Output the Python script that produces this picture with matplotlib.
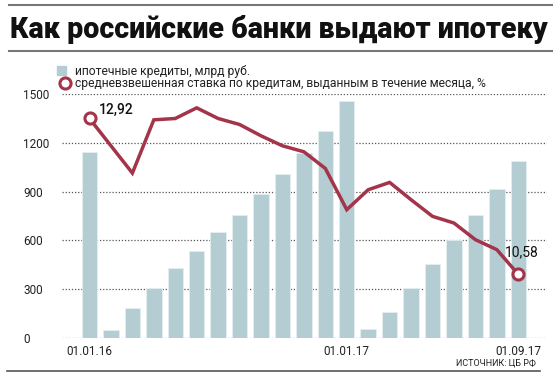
import numpy as np
import matplotlib.pyplot as plt
from matplotlib.lines import Line2D
from matplotlib.patches import Rectangle

# ипотечные кредиты, млрд руб. (01.01.16 ... 01.09.17)
credits = [1145, 47, 187, 306, 430, 532, 649, 758, 886, 1011, 1138, 1274, 1459,
           55, 158, 306, 456, 600, 758, 914, 1089]
# средневзвешенная ставка, % (для второй точки значения нет)
rate = [12.92, None, 12.10, 12.90, 12.92, 13.08, 12.92, 12.83, 12.66, 12.51, 12.42,
        12.17, 11.55, 11.85, 11.96, 11.70, 11.45, 11.35, 11.10, 10.95, 10.58]
xlabels = {0: "01.01.16", 12: "01.01.17", 20: "01.09.17"}
yticks = [0, 300, 600, 900, 1200, 1500]

W, H = 560, 380
fig = plt.figure(figsize=(5.6, 3.8), dpi=100)

bar_col = "#b3cdd2"
red = "#a3344a"
grey = "#777777"
fnt = "Roboto"


def fx(px):
    return px / W


def fy(py):
    return 1 - py / H


# оси: x=62..547 px, y=94..338 px
ax = fig.add_axes([fx(62), fy(338), fx(547) - fx(62), fy(94) - fy(338)])
x = np.arange(len(credits))
ax.bar(x, credits, width=0.72, color=bar_col, edgecolor="#e4eff1", linewidth=0.6, zorder=2)
ax.set_xlim(-1.283, 21.34)
ax.set_ylim(0, 1500)
ax.set_yticks(yticks)
ax.set_yticklabels([str(v) for v in yticks], fontsize=8.5, family=fnt, color="#222222")
for lab in ax.get_yticklabels():
    lab.set_ha("left")
ax.tick_params(axis="y", length=0, pad=28)
ax.set_xticks(list(xlabels.keys()))
ax.set_xticklabels(list(xlabels.values()), fontsize=8.5, family=fnt, color="#222222")
ax.tick_params(axis="x", length=0, pad=5)
for y in yticks:
    ax.axhline(y, color="#555555", lw=0.9, ls=(0, (1, 1.5)), zorder=1)
for s in ax.spines.values():
    s.set_visible(False)
ax.patch.set_alpha(0)

# ставка на второй оси
ax2 = ax.twinx()
ax2.set_ylim(9.623, 13.288)
ax2.axis("off")
rx = [i for i, r in enumerate(rate) if r is not None]
ry = [r for r in rate if r is not None]
ax2.plot(rx, ry, color=red, lw=2.5, solid_joinstyle="miter", zorder=3, clip_on=False)
ax2.plot([rx[0], rx[-1]], [ry[0], ry[-1]], "o", ms=8, mfc="white", mec=red, mew=2.2,
         zorder=4, clip_on=False)
ax2.annotate("12,92", (rx[0], ry[0]), xytext=(7, 6), textcoords="offset points",
             fontsize=10, family=fnt, fontweight="medium", color="#111111", va="center")
ax2.annotate("10,58", (rx[-1], ry[-1]), xytext=(-10, 16), textcoords="offset points",
             fontsize=10, family=fnt, color="#111111", va="center")

# заголовок и линейки
fig.add_artist(Line2D([fx(9), fx(552)], [fy(4.5), fy(4.5)], color=grey, lw=1.5))
fig.add_artist(Line2D([fx(9), fx(552)], [fy(51), fy(51)], color=grey, lw=1.5))
fig.add_artist(Line2D([fx(7), fx(540)], [fy(371), fy(371)], color="#555555", lw=1.2))
fig.text(fx(10), fy(30), "Как российские банки выдают ипотеку", fontsize=20.6,
         family=fnt, fontweight="black", color="#111111", va="center", ha="left")

# легенда
fig.add_artist(Rectangle((fx(57), fy(75)), fx(9), fy(66) - fy(75), color=bar_col))
fig.text(fx(75), fy(71), "ипотечные кредиты, млрд руб.", fontsize=8.7, family=fnt,
         color="#222222", va="center")
fig.add_artist(Line2D([fx(65)], [fy(83)], marker="o", ms=8, mfc="white", mec=red, mew=2.2))
fig.text(fx(75), fy(83), "средневзвешенная ставка по кредитам, выданным в течение месяца, %",
         fontsize=8.7, family=fnt, color="#222222", va="center")

fig.text(fx(536), fy(363), "ИСТОЧНИК: ЦБ РФ", fontsize=6.5, family=fnt,
         color="#222222", ha="right", va="center")

fig.savefig("out.png", dpi=100)
